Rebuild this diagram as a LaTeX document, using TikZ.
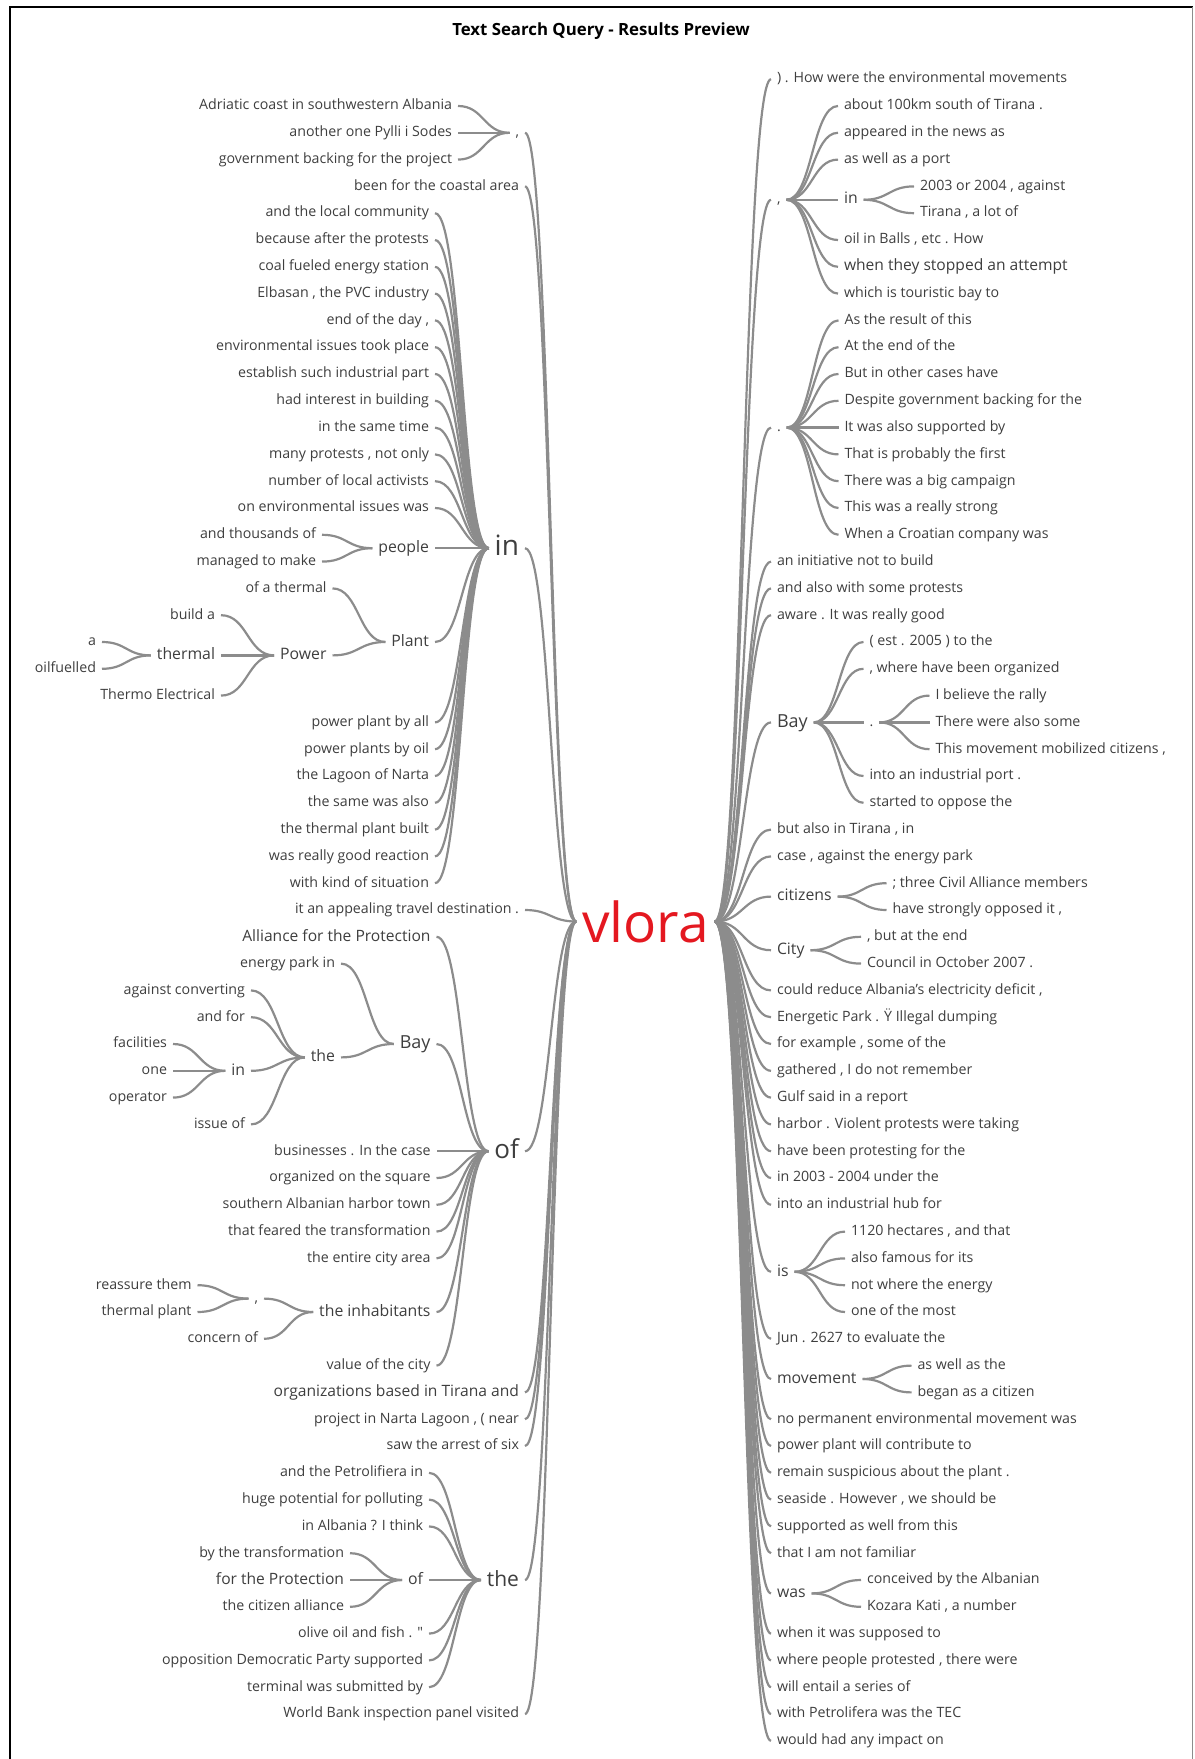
\documentclass[tikz,border=0pt]{standalone}
\usepackage{fontspec}
\setmainfont{Open Sans}
\usepackage{xcolor}
\usetikzlibrary{calc}

\definecolor{treegray}{RGB}{140,140,140}
\definecolor{wordgray}{RGB}{62,62,62}
\definecolor{vlorared}{RGB}{228,24,32}

\tikzset{
    leaf/.style={text=wordgray, inner xsep=2pt, inner ysep=0pt, outer xsep=1pt, font=\fontsize{7.1}{8}\selectfont, text height=5.3pt, text depth=1.5pt},
    leafb/.style={leaf, font=\fontsize{7.8}{9}\selectfont, text height=5.9pt, text depth=1.7pt},
    midword/.style={leaf, font=\fontsize{7.9}{9}\selectfont, text height=6pt, text depth=1.8pt},
    midb/.style={leaf, font=\fontsize{9}{10}\selectfont, text height=6.7pt, text depth=2pt},
    bigword/.style={leaf, font=\fontsize{13}{15}\selectfont, text height=9.8pt, text depth=2.9pt},
    lft/.style={anchor=east},
    rgt/.style={anchor=west},
    link/.style={draw=treegray, line width=1.1pt, to path={let \p1=(\tikztostart), \p2=(\tikztotarget) in .. controls ({(\x1+\x2)/2},\y1) and ({(\x1+\x2)/2},\y2) .. (\tikztotarget)}}
}

\begin{document}
\begin{tikzpicture}[x=0.5pt, y=-0.5pt]
    \useasboundingbox (0,0) rectangle (1194,1759);

    % frame and title
    \draw[line width=1pt] (9.5,1759) -- (9.5,7.5) -- (1192.5,7.5);
    \draw[treegray, line width=0.5pt] (1192.5,7.5) -- (1192.5,1759);
    \node[font=\bfseries\fontsize{8.4}{10}\selectfont] (title) at (601,31) {Text Search Query - Results Preview};

    % root word
    \node[text=vlorared, font=\fontsize{27.5}{30}\selectfont, inner xsep=2pt, outer xsep=1pt, inner ysep=0pt] (vlora) at (645.5,921.5) {vlora};

    % left side, first level
    \node[leaf,lft] (lc) at (525,132.8) {,};
    \node[leaf,lft] (l3) at (525,186.4) {been for the coastal area};
    \node[bigword,lft,font=\fontsize{14}{16}\selectfont] (lin) at (525,548.2) {in};
    \node[leaf,lft] (l30) at (525,910) {it an appealing travel destination .};
    \node[bigword,lft] (lof) at (525,1151.2) {of};
    \node[leafb,lft] (l48) at (525,1392.4) {organizations based in Tirana and};
    \node[leaf,lft] (l49) at (525,1419.2) {project in Narta Lagoon , ( near};
    \node[leaf,lft] (l50) at (525,1446) {saw the arrest of six};
    \node[bigword,lft,font=\fontsize{10.5}{12}\selectfont] (lthe) at (525,1580) {the};
    \node[leaf,lft] (l60) at (525,1714) {World Bank inspection panel visited};

    % under the comma
    \node[leaf,lft] (l0) at (458,106) {Adriatic coast in southwestern Albania};
    \node[leaf,lft] (l1) at (458,132.8) {another one Pylli i Sodes};
    \node[leaf,lft] (l2) at (458,159.6) {government backing for the project};

    % under in
    \node[leaf,lft] (l4) at (435,213.2) {and the local community};
    \node[leaf,lft] (l5) at (435,240) {because after the protests};
    \node[leaf,lft] (l6) at (435,266.8) {coal fueled energy station};
    \node[leaf,lft] (l7) at (435,293.6) {Elbasan , the PVC industry};
    \node[leaf,lft] (l8) at (435,320.4) {end of the day ,};
    \node[leaf,lft] (l9) at (435,347.2) {environmental issues took place};
    \node[leaf,lft] (l10) at (435,374) {establish such industrial part};
    \node[leaf,lft] (l11) at (435,400.8) {had interest in building};
    \node[leaf,lft] (l12) at (435,427.6) {in the same time};
    \node[leaf,lft] (l13) at (435,454.4) {many protests , not only};
    \node[leaf,lft] (l14) at (435,481.2) {number of local activists};
    \node[leaf,lft] (l15) at (435,508) {on environmental issues was};
    \node[midword,lft] (lpeople) at (435,548.2) {people};
    \node[midword,lft] (lplant) at (435,642) {Plant};
    \node[leaf,lft] (l23) at (435,722.4) {power plant by all};
    \node[leaf,lft] (l24) at (435,749.2) {power plants by oil};
    \node[leaf,lft] (l25) at (435,776) {the Lagoon of Narta};
    \node[leaf,lft] (l26) at (435,802.8) {the same was also};
    \node[leaf,lft] (l27) at (435,829.6) {the thermal plant built};
    \node[leaf,lft] (l28) at (435,856.4) {was really good reaction};
    \node[leaf,lft] (l29) at (435,883.2) {with kind of situation};

    \node[leaf,lft] (l16) at (322,534.8) {and thousands of};
    \node[leaf,lft] (l17) at (322,561.6) {managed to make};

    \node[leaf,lft] (l18) at (332.5,588.4) {of a thermal};
    \node[midword,lft] (lpower) at (332.5,655.4) {Power};
    \node[leaf,lft] (l19) at (221,615.2) {build a};
    \node[midword,lft] (ltherm) at (221,655.4) {thermal};
    \node[leaf,lft] (l22) at (221,695.6) {Thermo Electrical};
    \node[leaf,lft] (l20) at (102,642) {a};
    \node[leaf,lft] (l21) at (102,668.8) {oilfuelled};

    % under of
    \node[leafb,lft] (l31) at (436.5,936.8) {Alliance for the Protection};
    \node[midb,lft] (lbay) at (436.5,1044) {Bay};
    \node[leaf,lft] (l39) at (436.5,1151.2) {businesses . In the case};
    \node[leaf,lft] (l40) at (436.5,1178) {organized on the square};
    \node[leaf,lft] (l41) at (436.5,1204.8) {southern Albanian harbor town};
    \node[leaf,lft] (l42) at (436.5,1231.6) {that feared the transformation};
    \node[leaf,lft] (l43) at (436.5,1258.4) {the entire city area};
    \node[midword,lft] (linh) at (436.5,1312) {the inhabitants};
    \node[leaf,lft] (l47) at (436.5,1365.6) {value of the city};

    \node[leaf,lft] (l32) at (341,963.6) {energy park in};
    \node[midword,lft] (lthe2) at (341,1057.4) {the};
    \node[leaf,lft] (l33) at (251,990.4) {against converting};
    \node[leaf,lft] (l34) at (251,1017.2) {and for};
    \node[midword,lft] (lin2) at (251,1070.8) {in};
    \node[leaf,lft] (l38) at (251,1124.4) {issue of};
    \node[leaf,lft] (l35) at (173,1044) {facilities};
    \node[leaf,lft] (l36) at (173,1070.8) {one};
    \node[leaf,lft] (l37) at (173,1097.6) {operator};

    \node[leaf,lft] (lc2) at (264,1298.6) {,};
    \node[leaf,lft] (l46) at (264,1338.8) {concern of};
    \node[leaf,lft] (l44) at (197.5,1285.2) {reassure them};
    \node[leaf,lft] (l45) at (197.5,1312) {thermal plant};

    % under the
    \node[leaf,lft] (l51) at (429,1472.8) {and the Petrolifiera in};
    \node[leaf,lft] (l52) at (429,1499.6) {huge potential for polluting};
    \node[leaf,lft] (l53) at (429,1526.4) {in Albania ? I think};
    \node[midword,lft] (lof2) at (429,1580) {of};
    \node[leaf,lft] (l57) at (429,1633.6) {olive oil and fish . \textquotedbl};
    \node[leaf,lft] (l58) at (429,1660.4) {opposition Democratic Party supported};
    \node[leaf,lft] (l59) at (429,1687.2) {terminal was submitted by};
    \node[leaf,lft] (l54) at (350,1553.2) {by the transformation};
    \node[leafb,lft] (l55) at (350,1580) {for the Protection};
    \node[leaf,lft] (l56) at (350,1606.8) {the citizen alliance};

    % right side, first level
    \node[leaf,rgt] (r0) at (771,79.2) {) . How were the environmental movements};
    \node[leaf,rgt] (rc) at (771,199.8) {,};
    \node[leaf,rgt] (rp) at (771,427.6) {.};
    \node[leaf,rgt] (r18) at (771,561.6) {an initiative not to build};
    \node[leaf,rgt] (r19) at (771,588.4) {and also with some protests};
    \node[leaf,rgt] (r20) at (771,615.2) {aware . It was really good};
    \node[midb,rgt] (rbay) at (771,722.4) {Bay};
    \node[leaf,rgt] (r28) at (771,829.6) {but also in Tirana , in};
    \node[leaf,rgt] (r29) at (771,856.4) {case , against the energy park};
    \node[midword,rgt] (rcit) at (771,896.6) {citizens};
    \node[midword,rgt] (rcity) at (771,950.2) {City};
    \node[leaf,rgt] (r34) at (771,990.4) {could reduce Albania's electricity deficit ,};
    \node[leaf,rgt] (r35) at (771,1017.2) {Energetic Park . Ÿ Illegal dumping};
    \node[leaf,rgt] (r36) at (771,1044) {for example , some of the};
    \node[leaf,rgt] (r37) at (771,1070.8) {gathered , I do not remember};
    \node[leaf,rgt] (r38) at (771,1097.6) {Gulf said in a report};
    \node[leaf,rgt] (r39) at (771,1124.4) {harbor . Violent protests were taking};
    \node[leaf,rgt] (r40) at (771,1151.2) {have been protesting for the};
    \node[leaf,rgt] (r41) at (771,1178) {in 2003 - 2004 under the};
    \node[leaf,rgt] (r42) at (771,1204.8) {into an industrial hub for};
    \node[midword,rgt] (ris) at (771,1271.8) {is};
    \node[leaf,rgt] (r47) at (771,1338.8) {Jun . 2627 to evaluate the};
    \node[midword,rgt] (rmov) at (771,1379) {movement};
    \node[leaf,rgt] (r50) at (771,1419.2) {no permanent environmental movement was};
    \node[leaf,rgt] (r51) at (771,1446) {power plant will contribute to};
    \node[leaf,rgt] (r52) at (771,1472.8) {remain suspicious about the plant .};
    \node[leaf,rgt] (r53) at (771,1499.6) {seaside . However , we should be};
    \node[leaf,rgt] (r54) at (771,1526.4) {supported as well from this};
    \node[leaf,rgt] (r55) at (771,1553.2) {that I am not familiar};
    \node[midword,rgt] (rwas) at (771,1593.4) {was};
    \node[leaf,rgt] (r58) at (771,1633.6) {when it was supposed to};
    \node[leaf,rgt] (r59) at (771,1660.4) {where people protested , there were};
    \node[leaf,rgt] (r60) at (771,1687.2) {will entail a series of};
    \node[leaf,rgt] (r61) at (771,1714) {with Petrolifera was the TEC};
    \node[leaf,rgt] (r62) at (771,1740.8) {would had any impact on};

    % under the comma
    \node[leaf,rgt] (r1) at (838,106) {about 100km south of Tirana .};
    \node[leaf,rgt] (r2) at (838,132.8) {appeared in the news as};
    \node[leaf,rgt] (r3) at (838,159.6) {as well as a port};
    \node[midword,rgt] (rin) at (838,199.8) {in};
    \node[leaf,rgt] (r6) at (838,240) {oil in Balls , etc . How};
    \node[leafb,rgt] (r7) at (838,266.8) {when they stopped an attempt};
    \node[leaf,rgt] (r8) at (838,293.6) {which is touristic bay to};
    \node[leaf,rgt] (r4) at (914,186.4) {2003 or 2004 , against};
    \node[leaf,rgt] (r5) at (914,213.2) {Tirana , a lot of};

    % under the full stop
    \node[leaf,rgt] (r9) at (838.5,320.4) {As the result of this};
    \node[leaf,rgt] (r10) at (838.5,347.2) {At the end of the};
    \node[leaf,rgt] (r11) at (838.5,374) {But in other cases have};
    \node[leaf,rgt] (r12) at (838.5,400.8) {Despite government backing for the};
    \node[leaf,rgt] (r13) at (838.5,427.6) {It was also supported by};
    \node[leaf,rgt] (r14) at (838.5,454.4) {That is probably the first};
    \node[leaf,rgt] (r15) at (838.5,481.2) {There was a big campaign};
    \node[leaf,rgt] (r16) at (838.5,508) {This was a really strong};
    \node[leaf,rgt] (r17) at (838.5,534.8) {When a Croatian company was};

    % under Bay
    \node[leaf,rgt] (r21) at (863.5,642) {( est . 2005 ) to the};
    \node[leaf,rgt] (r22) at (863.5,668.8) {, where have been organized};
    \node[leaf,rgt] (rbp) at (863.5,722.4) {.};
    \node[leaf,rgt] (r26) at (863.5,776) {into an industrial port .};
    \node[leaf,rgt] (r27) at (863.5,802.8) {started to oppose the};
    \node[leaf,rgt] (r23) at (929.5,695.6) {I believe the rally};
    \node[leaf,rgt] (r24) at (929.5,722.4) {There were also some};
    \node[leaf,rgt] (r25) at (929.5,749.2) {This movement mobilized citizens ,};

    % short branches
    \node[leaf,rgt] (r30) at (886.5,883.2) {; three Civil Alliance members};
    \node[leaf,rgt] (r31) at (886.5,910) {have strongly opposed it ,};
    \node[leaf,rgt] (r32) at (861,936.8) {, but at the end};
    \node[leaf,rgt] (r33) at (861,963.6) {Council in October 2007 .};
    \node[leaf,rgt] (r43) at (845,1231.6) {1120 hectares , and that};
    \node[leaf,rgt] (r44) at (845,1258.4) {also famous for its};
    \node[leaf,rgt] (r45) at (845,1285.2) {not where the energy};
    \node[leaf,rgt] (r46) at (845,1312) {one of the most};
    \node[leaf,rgt] (r48) at (911.5,1365.6) {as well as the};
    \node[leaf,rgt] (r49) at (911.5,1392.4) {began as a citizen};
    \node[leaf,rgt] (r56) at (861,1580) {conceived by the Albanian};
    \node[leaf,rgt] (r57) at (861,1606.8) {Kozara Kati , a number};

    % branches, left
    \foreach \w in {lc,l3,lin,l30,lof,l48,l49,l50,lthe,l60}
        \draw[link] (vlora.west) to (\w.east);
    \foreach \w in {l0,l1,l2}
        \draw[link] (lc.west) to (\w.east);
    \foreach \w in {l4,l5,l6,l7,l8,l9,l10,l11,l12,l13,l14,l15,lpeople,lplant,l23,l24,l25,l26,l27,l28,l29}
        \draw[link] (lin.west) to (\w.east);
    \foreach \w in {l16,l17}
        \draw[link] (lpeople.west) to (\w.east);
    \foreach \w in {l18,lpower}
        \draw[link] (lplant.west) to (\w.east);
    \foreach \w in {l19,ltherm,l22}
        \draw[link] (lpower.west) to (\w.east);
    \foreach \w in {l20,l21}
        \draw[link] (ltherm.west) to (\w.east);
    \foreach \w in {l31,lbay,l39,l40,l41,l42,l43,linh,l47}
        \draw[link] (lof.west) to (\w.east);
    \foreach \w in {l32,lthe2}
        \draw[link] (lbay.west) to (\w.east);
    \foreach \w in {l33,l34,lin2,l38}
        \draw[link] (lthe2.west) to (\w.east);
    \foreach \w in {l35,l36,l37}
        \draw[link] (lin2.west) to (\w.east);
    \foreach \w in {lc2,l46}
        \draw[link] (linh.west) to (\w.east);
    \foreach \w in {l44,l45}
        \draw[link] (lc2.west) to (\w.east);
    \foreach \w in {l51,l52,l53,lof2,l57,l58,l59}
        \draw[link] (lthe.west) to (\w.east);
    \foreach \w in {l54,l55,l56}
        \draw[link] (lof2.west) to (\w.east);

    % branches, right
    \foreach \w in {r0,rc,rp,r18,r19,r20,rbay,r28,r29,rcit,rcity,r34,r35,r36,r37,r38,r39,r40,r41,r42,ris,r47,rmov,r50,r51,r52,r53,r54,r55,rwas,r58,r59,r60,r61,r62}
        \draw[link] (vlora.east) to (\w.west);
    \foreach \w in {r1,r2,r3,rin,r6,r7,r8}
        \draw[link] (rc.east) to (\w.west);
    \foreach \w in {r4,r5}
        \draw[link] (rin.east) to (\w.west);
    \foreach \w in {r9,r10,r11,r12,r13,r14,r15,r16,r17}
        \draw[link] (rp.east) to (\w.west);
    \foreach \w in {r21,r22,rbp,r26,r27}
        \draw[link] (rbay.east) to (\w.west);
    \foreach \w in {r23,r24,r25}
        \draw[link] (rbp.east) to (\w.west);
    \foreach \w in {r30,r31}
        \draw[link] (rcit.east) to (\w.west);
    \foreach \w in {r32,r33}
        \draw[link] (rcity.east) to (\w.west);
    \foreach \w in {r43,r44,r45,r46}
        \draw[link] (ris.east) to (\w.west);
    \foreach \w in {r48,r49}
        \draw[link] (rmov.east) to (\w.west);
    \foreach \w in {r56,r57}
        \draw[link] (rwas.east) to (\w.west);

\end{tikzpicture}
\end{document}
